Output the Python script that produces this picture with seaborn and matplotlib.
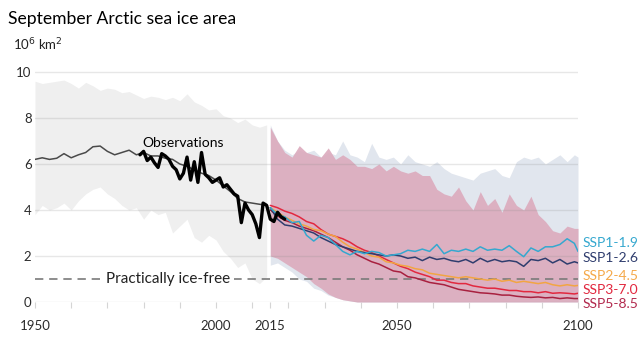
import numpy as np
import pandas as pd
import matplotlib
matplotlib.use("Agg")
import matplotlib.pyplot as plt
import seaborn as sns

# ---------------- data ----------------
hist_years = list(range(1950, 2015, 2))
hist_mean = [6.2, 6.27, 6.2, 6.25, 6.45, 6.27, 6.4, 6.5, 6.75, 6.78, 6.55, 6.4, 6.5,
             6.6, 6.4, 6.5, 6.35, 6.35, 6.25, 6.2, 6.0, 5.9, 5.75, 5.6, 5.5, 5.3,
             5.05, 4.8, 4.5, 4.35, 4.3, 4.25, 4.2]
hist_upper = [9.6, 9.5, 9.55, 9.6, 9.65, 9.5, 9.3, 9.55, 9.4, 9.2, 9.3, 9.25, 9.1,
              9.15, 9.0, 8.85, 8.95, 8.9, 8.8, 8.9, 8.75, 9.05, 8.7, 8.55, 8.35, 8.4,
              8.1, 8.0, 7.8, 7.95, 7.7, 7.6, 7.7]
hist_lower = [3.8, 4.2, 4.0, 4.1, 4.3, 4.0, 4.4, 4.7, 4.9, 5.0, 4.7, 4.5, 4.2,
              4.0, 4.1, 3.6, 4.0, 3.8, 3.9, 3.0, 3.3, 3.6, 2.8, 2.6, 2.9, 2.7,
              2.2, 1.9, 1.5, 1.7, 1.0, 0.8, 1.1]

obs_years = list(range(1979, 2020))
obs = [6.4, 6.55, 6.15, 6.3, 6.05, 5.85, 6.45, 6.35, 6.2, 5.9, 5.75, 5.35, 5.6, 6.3,
       5.3, 6.1, 5.2, 6.5, 5.55, 5.4, 5.2, 5.3, 5.4, 5.0, 5.1, 4.9, 4.7, 4.6, 3.45,
       4.3, 4.0, 3.8, 3.4, 2.8, 4.3, 4.2, 3.6, 3.5, 3.9, 3.7, 3.6]

ssp_years = list(range(2015, 2100, 2)) + [2100]
ssp119 = [4.1, 3.8, 3.7, 3.45, 3.5, 2.9, 2.65, 2.9, 2.8, 2.5, 2.2, 2.05, 2.2, 2.1, 2.2,
          2.15, 2.0, 2.05, 2.1, 2.25, 2.2, 2.3, 2.2, 2.5, 2.1, 2.25, 2.2, 2.3, 2.2,
          2.4, 2.25, 2.3, 2.25, 2.45, 2.2, 1.97, 2.35, 2.2, 2.4, 2.4, 2.5, 2.75, 2.55, 2.2]
ssp126 = [4.1, 3.6, 3.35, 3.3, 3.2, 3.1, 3.0, 2.8, 2.65, 2.5, 2.4, 2.3, 2.2, 2.15, 2.1,
          2.05, 2.0, 2.05, 2.0, 1.9, 1.95, 1.8, 1.95, 1.85, 1.9, 1.8, 1.75, 1.85, 1.7,
          1.9, 1.75, 1.85, 1.75, 1.8, 1.75, 1.55, 1.85, 1.8, 1.9, 1.7, 1.85, 1.65, 1.75, 1.7]
ssp245 = [4.1, 3.9, 3.7, 3.55, 3.4, 3.3, 3.15, 3.1, 2.95, 2.85, 2.6, 2.4, 2.3, 2.15, 2.0,
          1.95, 1.75, 1.7, 1.6, 1.55, 1.45, 1.4, 1.25, 1.2, 1.15, 1.1, 1.05, 1.1, 1.05,
          1.0, 0.95, 1.0, 0.9, 0.95, 0.85, 0.9, 0.85, 0.8, 0.85, 0.75, 0.7, 0.75, 0.7, 0.72]
ssp370 = [4.2, 4.1, 3.95, 3.85, 3.7, 3.5, 3.4, 3.15, 2.95, 2.85, 2.75, 2.6, 2.4, 2.25, 2.15,
          2.0, 1.85, 1.7, 1.55, 1.45, 1.3, 1.2, 1.1, 0.95, 0.95, 0.85, 0.8, 0.8, 0.7,
          0.65, 0.6, 0.6, 0.55, 0.5, 0.5, 0.45, 0.45, 0.4, 0.45, 0.38, 0.4, 0.38, 0.35, 0.38]
ssp585 = [4.0, 3.75, 3.55, 3.45, 3.3, 3.2, 3.1, 2.95, 2.8, 2.6, 2.4, 2.25, 2.05, 1.9, 1.75,
          1.65, 1.5, 1.35, 1.3, 1.1, 1.05, 0.95, 0.85, 0.8, 0.75, 0.65, 0.55, 0.5, 0.45,
          0.4, 0.38, 0.35, 0.3, 0.3, 0.25, 0.22, 0.2, 0.22, 0.18, 0.2, 0.15, 0.18, 0.15, 0.15]

band126_upper = [7.7, 7.0, 6.6, 6.4, 6.6, 6.5, 6.6, 6.3, 6.5, 6.4, 7.0, 6.4, 6.3, 6.1, 6.9,
                 6.3, 6.2, 6.3, 6.0, 6.4, 6.1, 6.0, 5.9, 6.1, 5.8, 5.6, 5.5, 5.4, 5.3,
                 5.6, 5.7, 5.8, 5.5, 5.4, 6.1, 6.3, 6.2, 6.3, 6.0, 6.2, 6.4, 6.1, 6.4, 6.3]
band126_lower = [1.6, 1.7, 1.5, 1.3, 1.0, 0.9, 0.6, 0.5, 0.3, 0.2, 0.1, 0.05, 0.0, 0.0, 0.0,
                 0.0, 0.0, 0.0, 0.0, 0.0, 0.0, 0.0, 0.0, 0.0, 0.0, 0.0, 0.0, 0.0, 0.0,
                 0.0, 0.0, 0.0, 0.0, 0.0, 0.0, 0.0, 0.0, 0.0, 0.0, 0.0, 0.0, 0.0, 0.0, 0.0]
band585_upper = [7.6, 7.0, 6.5, 6.3, 6.8, 6.5, 6.4, 6.3, 6.7, 6.2, 6.4, 6.2, 5.9, 5.9, 5.8,
                 6.0, 5.7, 5.9, 5.7, 5.6, 5.7, 5.5, 5.5, 4.9, 4.7, 4.6, 5.0, 4.4, 4.0,
                 4.8, 4.2, 4.5, 3.9, 4.7, 4.2, 4.0, 4.6, 3.8, 3.5, 3.1, 3.0, 3.3, 3.2, 3.2]
band585_lower = [2.0, 1.9, 1.7, 1.5, 1.3, 1.1, 0.8, 0.6, 0.35, 0.2, 0.1, 0.05, 0.0, 0.0, 0.0,
                 0.0, 0.0, 0.0, 0.0, 0.0, 0.0, 0.0, 0.0, 0.0, 0.0, 0.0, 0.0, 0.0, 0.0,
                 0.0, 0.0, 0.0, 0.0, 0.0, 0.0, 0.0, 0.0, 0.0, 0.0, 0.0, 0.0, 0.0, 0.0, 0.0]

scenarios = ["SSP1-1.9", "SSP1-2.6", "SSP2-4.5", "SSP3-7.0", "SSP5-8.5"]
colors = ["#35a8cf", "#2f3d6e", "#f2a543", "#e2283f", "#a8203f"]
label_colors = ["#35a8cf", "#2f3d6e", "#f5a94a", "#e2283f", "#b22a4e"]
ice_free = 1.0
x_ticks = [1950, 2000, 2015, 2050, 2100]
y_ticks = [0, 2, 4, 6, 8, 10]

# ---------------- plot ----------------
sns.set_theme(style="white")
plt.rcParams["font.family"] = ["Lato", "DejaVu Sans"]

fig = plt.figure(figsize=(6.41, 3.38), dpi=100)
ax = fig.add_axes([35 / 641, 1 - 302 / 338, 543 / 641, 236.9 / 338])

ax.fill_between(hist_years, hist_lower, hist_upper, color="#efefef", lw=0, zorder=1)
ax.fill_between(ssp_years, band126_lower, band126_upper, color="#e1e6ee", lw=0, zorder=1)
ax.fill_between(ssp_years, band585_lower, band585_upper, color="#dcaabd", alpha=0.9,
                lw=0, zorder=1.1)

for yv in y_ticks:
    ax.axhline(yv, color="#888888", lw=1.0, alpha=0.2, zorder=1.5)

ax.plot([1950, 2100], [ice_free, ice_free], color="#7a7a7a", lw=1.2,
        linestyle=(0, (5, 3.5)), zorder=1.6)

ssp_df = pd.DataFrame({
    "year": ssp_years * 5,
    "value": ssp119 + ssp126 + ssp245 + ssp370 + ssp585,
    "scenario": sum([[s] * len(ssp_years) for s in scenarios], []),
})
sns.lineplot(data=ssp_df, x="year", y="value", hue="scenario", hue_order=scenarios[::-1],
             palette=dict(zip(scenarios, colors)), lw=1.1, legend=False, ax=ax, zorder=3)

sns.lineplot(x=hist_years, y=hist_mean, color="#4a4a4a", lw=1.1, ax=ax, zorder=4)
sns.lineplot(x=obs_years, y=obs, color="black", lw=2.4, ax=ax, zorder=5)

ax.set_xlim(1950, 2100)
ax.set_ylim(0, 10.3)
for s in ax.spines.values():
    s.set_visible(False)
ax.set_xlabel("")
ax.set_ylabel("")
ax.set_xticks(x_ticks)
ax.set_xticks(list(range(1950, 2101, 10)) + [2015], minor=True)
ax.set_yticks(y_ticks)
ax.tick_params(axis="x", which="both", length=4.3, width=0.8, color="#d5d5d5",
               direction="out", bottom=True)
ax.tick_params(axis="x", which="major", pad=9, labelsize=9.5, labelcolor="#2b2b2b")
ax.tick_params(axis="y", length=0, pad=2.5, labelsize=9.5, labelcolor="#2b2b2b")

ax.text(1991, 6.92, "Observations", ha="center", va="center", fontsize=10,
        color="black", zorder=6)
ax.text(1986.7, ice_free, "Practically ice-free", ha="center", va="center",
        fontsize=11, color="#222222", zorder=2,
        bbox=dict(facecolor="white", edgecolor="none", pad=3))

label_y = [2.57, 1.91, 1.13, 0.52, -0.09]
for name, c, yv in zip(scenarios, label_colors, label_y):
    ax.text(2101.3, yv, name, ha="left", va="center", fontsize=10,
            color=c, clip_on=False)

fig.text(8 / 641, 1 - 19 / 338, "September Arctic sea ice area", ha="left", va="center",
         fontsize=12.6, color="black")
fig.text(13 / 641, 1 - 45 / 338, r"10$^6$ km$^2$", ha="left", va="center",
         fontsize=9.5, color="#222222")

fig.savefig("out.png", dpi=100)
